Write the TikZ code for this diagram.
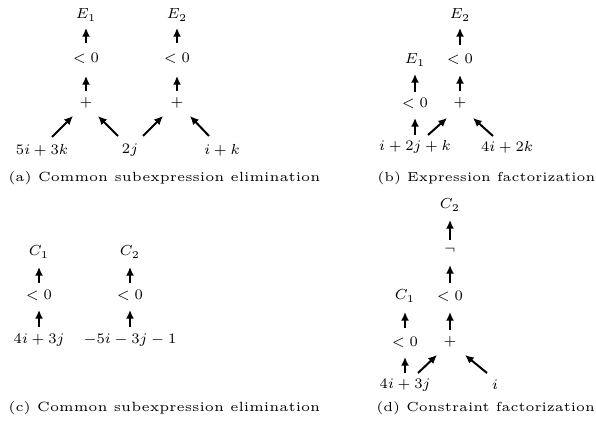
\documentclass[tikz,border=0pt]{standalone}
\usetikzlibrary{arrows.meta}
\newcommand\tm[1]{\scalebox{1.56}{\fontsize{7}{8}\selectfont $#1$}}
\newcommand\tcap[2]{\resizebox{#1}{!}{\fontsize{5}{6}\selectfont #2}}
\tikzset{
  lbl/.style={inner sep=0pt, anchor=center},
  captxt/.style={inner sep=0pt, anchor=west},
  arr/.style={line width=1.5pt, -{Latex[length=6.5pt,width=6pt]}}
}
\begin{document}
\begin{tikzpicture}[x=0.75pt,y=-0.75pt]
\useasboundingbox (0,0) rectangle (596,431);
% ---------- (a)
\node[lbl] (aE1) at (86,15) {\tm{E_1}};
\node[lbl] (aE2) at (177,15) {\tm{E_2}};
\node[lbl] (aL1) at (86,58) {\tm{<0}};
\node[lbl] (aL2) at (177,58) {\tm{<0}};
\node[lbl] (aP1) at (86,103) {\tm{+}};
\node[lbl] (aP2) at (177,103) {\tm{+}};
\node[lbl] (aB1) at (42,150) {\tm{5i+3k}};
\node[lbl] (aB2) at (130,150) {\tm{2j}};
\node[lbl] (aB3) at (222,150) {\tm{i+k}};
\draw[arr] ([shift={(0,-15)}]aL1.center) -- ([shift={(0,13)}]aE1.center);
\draw[arr] ([shift={(0,-15)}]aL2.center) -- ([shift={(0,13)}]aE2.center);
\draw[arr] ([shift={(0,-12)}]aP1.center) -- ([shift={(0,18)}]aL1.center);
\draw[arr] ([shift={(0,-12)}]aP2.center) -- ([shift={(0,18)}]aL2.center);
\draw[arr] ([shift={(10,-13)}]aB1.center) -- ([shift={(-13,13)}]aP1.center);
\draw[arr] ([shift={(-12,-14)}]aB2.center) -- ([shift={(12,13)}]aP1.center);
\draw[arr] ([shift={(13,-14)}]aB2.center) -- ([shift={(-14,13)}]aP2.center);
\draw[arr] ([shift={(-13,-14)}]aB3.center) -- ([shift={(13,13)}]aP2.center);
\node[captxt] (capa) at (8,178) {\tcap{234pt}{(a) Common subexpression elimination}};
% ---------- (b)
\node[lbl] (bE2) at (460,15) {\tm{E_2}};
\node[lbl] (bL2) at (460,59) {\tm{<0}};
\node[lbl] (bE1) at (415,60) {\tm{E_1}};
\node[lbl] (bL1) at (415,103) {\tm{<0}};
\node[lbl] (bP) at (460,103) {\tm{+}};
\node[lbl] (bB1) at (415,147) {\tm{i+2j+k}};
\node[lbl] (bB2) at (507,147) {\tm{4i+2k}};
\draw[arr] ([shift={(0,-14)}]bL2.center) -- ([shift={(0,13)}]bE2.center);
\draw[arr] ([shift={(0,-12)}]bP.center) -- ([shift={(0,16)}]bL2.center);
\draw[arr] ([shift={(0,-11)}]bL1.center) -- ([shift={(0,14)}]bE1.center);
\draw[arr] ([shift={(0,-12)}]bB1.center) -- ([shift={(0,15)}]bL1.center);
\draw[arr] ([shift={(13,-12)}]bB1.center) -- ([shift={(-13,15)}]bP.center);
\draw[arr] ([shift={(-14,-11)}]bB2.center) -- ([shift={(13,15)}]bP.center);
\node[captxt] (capb) at (377,178) {\tcap{163.5pt}{(b) Expression factorization}};
% ---------- (c)
\node[lbl] (cC1) at (39,252) {\tm{C_1}};
\node[lbl] (cC2) at (130,252) {\tm{C_2}};
\node[lbl] (cL1) at (39,295) {\tm{<0}};
\node[lbl] (cL2) at (130,295) {\tm{<0}};
\node[lbl] (cB1) at (39,340) {\tm{4i+3j}};
\node[lbl] (cB2) at (130,340) {\tm{-5i-3j-1}};
\draw[arr] ([shift={(0,-12)}]cL1.center) -- ([shift={(0,15)}]cC1.center);
\draw[arr] ([shift={(0,-12)}]cL2.center) -- ([shift={(0,15)}]cC2.center);
\draw[arr] ([shift={(0,-13)}]cB1.center) -- ([shift={(0,15)}]cL1.center);
\draw[arr] ([shift={(0,-13)}]cB2.center) -- ([shift={(0,15)}]cL2.center);
\node[captxt] (capc) at (8,408) {\tcap{234pt}{(c) Common subexpression elimination}};
% ---------- (d)
\node[lbl] (dC2) at (450,205) {\tm{C_2}};
\node[lbl] (dN) at (450,250) {\tm{\neg}};
\node[lbl] (dL2) at (450,296) {\tm{<0}};
\node[lbl] (dC1) at (405,296) {\tm{C_1}};
\node[lbl] (dL1) at (405,342) {\tm{<0}};
\node[lbl] (dP) at (450,342) {\tm{+}};
\node[lbl] (dB1) at (405,385) {\tm{4i+3j}};
\node[lbl] (dB2) at (495,385) {\tm{i}};
\draw[arr] ([shift={(0,-10)}]dN.center) -- ([shift={(0,15)}]dC2.center);
\draw[arr] ([shift={(0,-13)}]dL2.center) -- ([shift={(0,15)}]dN.center);
\draw[arr] ([shift={(0,-12)}]dP.center) -- ([shift={(0,16)}]dL2.center);
\draw[arr] ([shift={(0,-14)}]dL1.center) -- ([shift={(0,16)}]dC1.center);
\draw[arr] ([shift={(0,-12)}]dB1.center) -- ([shift={(0,15)}]dL1.center);
\draw[arr] ([shift={(13,-12)}]dB1.center) -- ([shift={(-13,13)}]dP.center);
\draw[arr] ([shift={(-8,-12)}]dB2.center) -- ([shift={(15,13)}]dP.center);
\node[captxt] (capd) at (376,408) {\tcap{164pt}{(d) Constraint factorization}};
\end{tikzpicture}
\end{document}
